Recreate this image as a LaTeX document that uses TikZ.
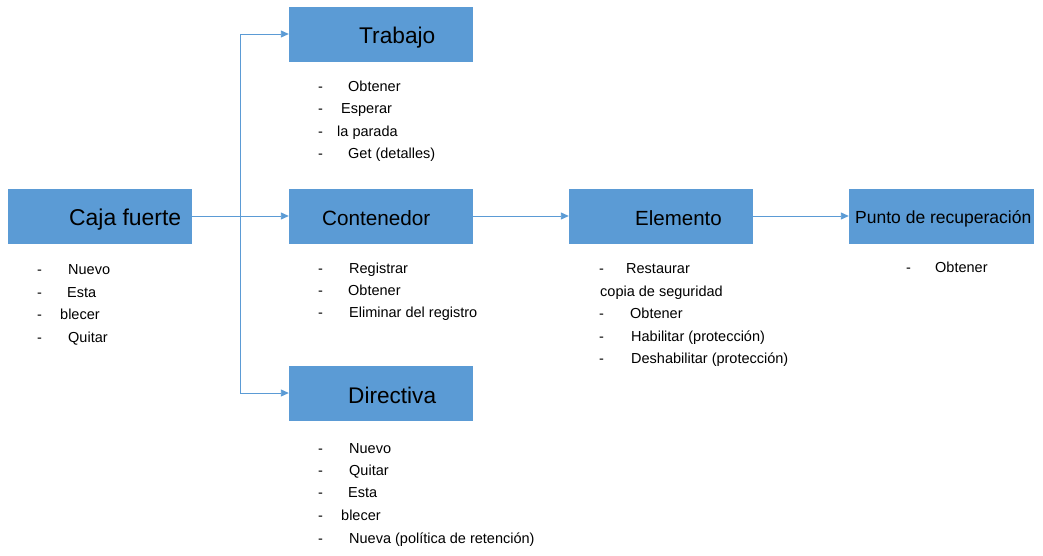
\documentclass[tikz,border=0pt]{standalone}
\usepackage{fontspec}
\setmainfont{Liberation Sans}
\usetikzlibrary{arrows.meta}
\definecolor{boxblue}{HTML}{5B9BD5}
\tikzset{
  box/.style={fill=boxblue, draw=none, minimum width=184pt, minimum height=55pt, inner sep=0pt},
  ttl/.style={anchor=base west, inner sep=0pt, text=black},
  lt/.style={anchor=base west, inner sep=0pt, text=black, font=\fontsize{14.5}{17}\selectfont},
  link/.style={draw=boxblue, line width=0.9pt},
  conn/.style={link, -{Triangle[length=8pt,width=7pt]}}
}
\newcommand\listitem[5]{\node[lt] (#1d) at (#2,#4) {-}; \node[lt] (#1) at (#3,#4) {#5};}
\newcommand\plainitem[4]{\node[lt] (#1) at (#2,#3) {#4};}
\begin{document}
\begin{tikzpicture}[x=1pt,y=-1pt]
\useasboundingbox (0,0) rectangle (1043,555);
% boxes
\node[box] (cf) at (100,216) {};
\node[box] (tr) at (381,34) {};
\node[box] (co) at (381,216) {};
\node[box] (di) at (381,393) {};
\node[box] (el) at (661,216) {};
\node[box, minimum width=185pt] (pr) at (941.5,216) {};
% titles
\node[ttl, font=\fontsize{22.9}{26}\selectfont] (cft) at (69,225) {Caja fuerte};
\node[ttl, font=\fontsize{22.7}{26}\selectfont] (trt) at (359,43) {Trabajo};
\node[ttl, font=\fontsize{20.7}{24}\selectfont] (cot) at (322,225) {Contenedor};
\node[ttl, font=\fontsize{22.6}{26}\selectfont] (dit) at (348,403) {Directiva};
\node[ttl, font=\fontsize{20.5}{24}\selectfont] (elt) at (635,225) {Elemento};
\node[ttl, font=\fontsize{17.5}{20}\selectfont] (prt) at (855,223) {Punto de recuperación};
% connectors
\coordinate (jt) at (240,34);
\coordinate (jd) at (240,393);
\draw[link] (jt) -- (jd);
\draw[conn] (cf.east) -- (co.west);
\draw[conn] (jt) -- (tr.west);
\draw[conn] (jd) -- (di.west);
\draw[conn] (co.east) -- (el.west);
\draw[conn] (el.east) -- (pr.west);
% Caja fuerte list
\listitem{cf1}{37}{68}{274}{Nuevo}
\listitem{cf2}{37}{67}{297}{Esta}
\listitem{cf3}{37}{60}{319}{blecer}
\listitem{cf4}{37}{68}{342}{Quitar}
% Trabajo list
\listitem{tr1}{318}{348}{91}{Obtener}
\listitem{tr2}{318}{341}{113}{Esperar}
\listitem{tr3}{318}{337}{136}{la parada}
\listitem{tr4}{318}{348}{158}{Get (detalles)}
% Contenedor list
\listitem{co1}{318}{349}{273}{Registrar}
\listitem{co2}{318}{348}{295}{Obtener}
\listitem{co3}{318}{349}{317}{Eliminar del registro}
% Directiva list
\listitem{di1}{318}{349}{453}{Nuevo}
\listitem{di2}{318}{349}{475}{Quitar}
\listitem{di3}{318}{348}{497}{Esta}
\listitem{di4}{318}{341}{520}{blecer}
\listitem{di5}{318}{349}{543}{Nueva (política de retención)}
% Elemento list
\listitem{el1}{599}{626}{273}{Restaurar}
\plainitem{el2}{600}{296}{copia de seguridad}
\listitem{el3}{599}{630}{318}{Obtener}
\listitem{el4}{599}{631}{341}{Habilitar (protección)}
\listitem{el5}{599}{631}{363}{Deshabilitar (protección)}
% Punto list
\listitem{pr1}{906}{935}{272}{Obtener}
\end{tikzpicture}
\end{document}
